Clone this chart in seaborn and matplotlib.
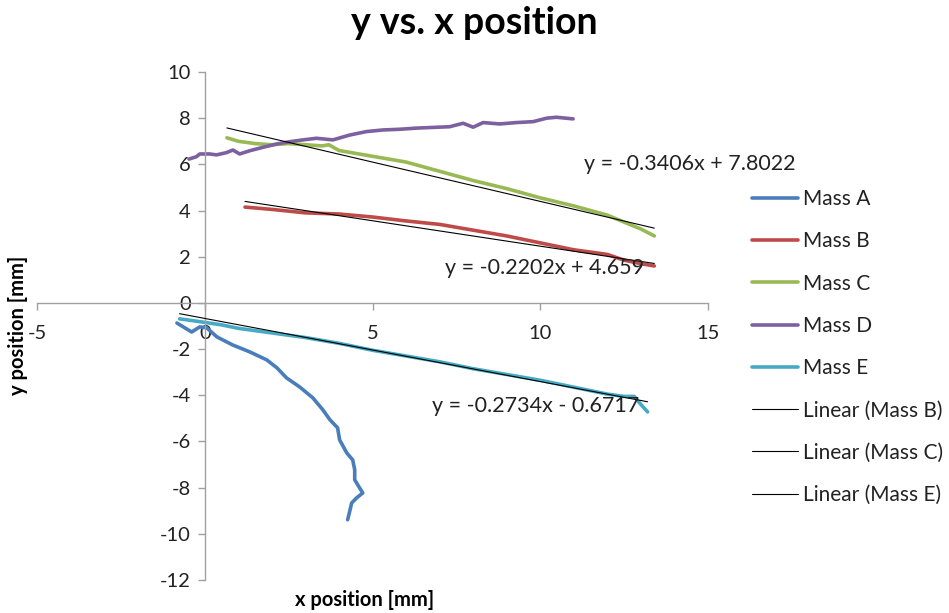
import numpy as np
import pandas as pd
import matplotlib
matplotlib.use("Agg")
import matplotlib.pyplot as plt
from matplotlib.lines import Line2D
import seaborn as sns

# ---- data ----
a_x = [-0.83, -0.39, -0.15, 0.06, 0.36, 0.83, 1.34, 1.85, 2.15, 2.44, 2.83, 3.22, 3.52, 3.73,
       3.96, 4.02, 4.23, 4.41, 4.47, 4.47, 4.56, 4.71, 4.53, 4.38, 4.26]
a_y = [-0.87, -1.26, -1.04, -1.08, -1.47, -1.82, -2.12, -2.47, -2.81, -3.25, -3.64, -4.11, -4.63,
       -5.06, -5.41, -5.93, -6.49, -6.80, -7.23, -7.66, -7.88, -8.23, -8.44, -8.66, -9.39]

b_x = [1.2, 2.0, 3.0, 4.0, 5.0, 6.0, 7.0, 8.0, 9.0, 10.0, 11.0, 12.0, 12.5, 13.0, 13.4]
b_y = [4.15, 4.05, 3.9, 3.85, 3.72, 3.55, 3.4, 3.15, 2.9, 2.6, 2.3, 2.1, 1.85, 1.7, 1.6]

c_x = [0.66, 1.0, 1.5, 2.0, 2.5, 3.0, 3.5, 3.7, 4.0, 5.0, 6.0, 7.0, 8.0, 9.0, 10.0, 11.0, 12.0, 13.0, 13.4]
c_y = [7.15, 7.0, 6.9, 6.85, 6.9, 6.85, 6.8, 6.85, 6.6, 6.35, 6.1, 5.7, 5.3, 4.95, 4.55, 4.2, 3.8, 3.2, 2.9]

d_x = [-0.47, -0.25, -0.15, 0.15, 0.35, 0.65, 0.84, 1.04, 1.34, 1.74, 2.14, 2.53, 2.93, 3.33, 3.82,
       4.32, 4.82, 5.31, 5.81, 6.31, 6.80, 7.30, 7.70, 8.00, 8.30, 8.79, 9.29, 9.79, 10.19, 10.48, 10.98]
d_y = [6.23, 6.33, 6.45, 6.45, 6.41, 6.51, 6.62, 6.45, 6.59, 6.74, 6.88, 6.98, 7.06, 7.13, 7.06,
       7.27, 7.42, 7.49, 7.52, 7.57, 7.60, 7.63, 7.78, 7.61, 7.81, 7.75, 7.81, 7.85, 8.0, 8.04, 7.97]

e_x = [-0.75, -0.3, 0.5, 1.0, 2.0, 3.0, 4.0, 5.0, 6.0, 7.0, 8.0, 9.0, 10.0, 11.0, 12.0, 12.5, 12.8, 13.0, 13.2]
e_y = [-0.69, -0.78, -0.95, -1.1, -1.3, -1.5, -1.75, -2.05, -2.3, -2.55, -2.85, -3.1, -3.35, -3.65,
       -3.95, -4.05, -4.05, -4.4, -4.72]

series_names = ["Mass A", "Mass B", "Mass C", "Mass D", "Mass E"]
trend_names = ["Linear (Mass B)", "Linear (Mass C)", "Linear (Mass E)"]
trend_slopes = [-0.2202, -0.3406, -0.2734]
trend_intercepts = [4.659, 7.8022, -0.6717]
trend_labels = ["y = -0.2202x + 4.659", "y = -0.3406x + 7.8022", "y = -0.2734x - 0.6717"]

colors = ["#4A7EBB", "#BE4B48", "#98B954", "#7D60A0", "#46AAC5"]

# ---- figure ----
sns.set_theme(style="white")
plt.rcParams['font.family'] = ['Lato', 'DejaVu Sans']
plt.rcParams['axes.unicode_minus'] = False

fig = plt.figure(figsize=(9.49, 6.13), dpi=100)
ax = fig.add_axes([37/949, 1-580/613, (708-37)/949, (580-72)/613])

xs_all = [a_x, b_x, c_x, d_x, e_x]
ys_all = [a_y, b_y, c_y, d_y, e_y]
for name, xs, ys, col in zip(series_names, xs_all, ys_all, colors):
    df = pd.DataFrame({"x": xs, "y": ys})
    sns.lineplot(data=df, x="x", y="y", sort=False, estimator=None, color=col,
                 linewidth=2.6, ax=ax, legend=False, zorder=2)

# trend lines over each series' x range
for xs, m, b in zip([b_x, c_x, e_x], trend_slopes, trend_intercepts):
    tx = np.array([min(xs), max(xs)])
    df = pd.DataFrame({"x": tx, "y": m*tx + b})
    sns.lineplot(data=df, x="x", y="y", sort=False, estimator=None, color="black",
                 linewidth=0.8, ax=ax, legend=False, zorder=3)

ax.set_xlim(-5, 15)
ax.set_ylim(-12, 10)
ax.set_xticks([-5, 0, 5, 10, 15])
ax.set_yticks(np.arange(-12, 11, 2))
ax.spines['left'].set_position(('data', 0))
ax.spines['bottom'].set_position(('data', 0))
ax.spines['top'].set_visible(False)
ax.spines['right'].set_visible(False)
for s in ['left', 'bottom']:
    ax.spines[s].set_color('#A0A0A0')
    ax.spines[s].set_linewidth(1.0)
ax.tick_params(axis='both', which='major', direction='out', length=5, width=1,
               color='#A0A0A0', labelsize=14.5, labelcolor='#222222',
               bottom=True, left=True)
ax.tick_params(axis='x', pad=11)
ax.tick_params(axis='y', pad=5)
ax.set_xlabel("")
ax.set_ylabel("")
ax.set_facecolor('none')
ax.grid(False)

# equation labels
eq_pos = [(7.15, 1.5), (11.3, 6.0), (6.77, -4.45)]
for (tx, ty), lab in zip(eq_pos, trend_labels):
    ax.text(tx, ty, lab, fontsize=15.5, ha='left', va='center', color='#222222', zorder=4)

# titles
fig.text(474/949, 1-23/613, "y vs. x position", ha='center', va='center',
         fontsize=27, fontweight='bold', color='black')
fig.text(365/949, 1-600/613, "x position [mm]", ha='center', va='center',
         fontsize=14.5, fontweight='bold', color='black')
fig.text(18/949, 1-325/613, "y position [mm]", ha='center', va='center', rotation=90,
         fontsize=14.5, fontweight='bold', color='black')

# legend
handles = [Line2D([0], [0], color=c, lw=2.6) for c in colors]
handles += [Line2D([0], [0], color='black', lw=0.8) for _ in trend_names]
leg = fig.legend(handles, series_names + trend_names, loc='upper left',
                 bbox_to_anchor=(752/949, 1-189/613), frameon=False, fontsize=15,
                 handlelength=2.2, handletextpad=0.25, labelspacing=1.07,
                 borderaxespad=0, borderpad=0)
for t in leg.get_texts():
    t.set_color('#222222')

fig.savefig("out.png", dpi=100)
